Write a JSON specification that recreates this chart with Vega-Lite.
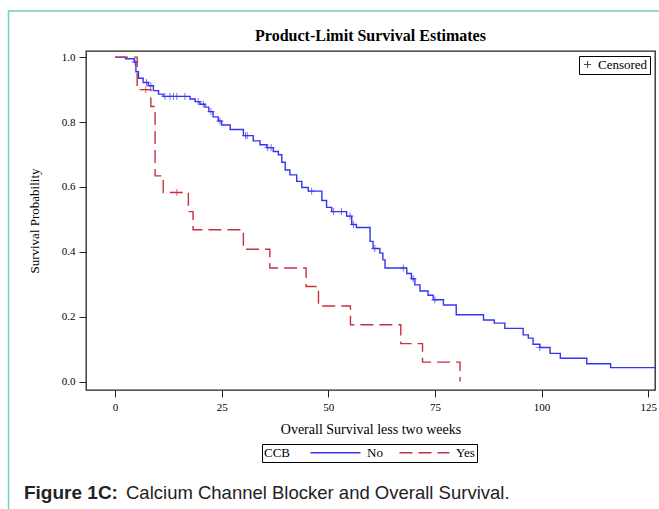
{
  "$schema": "https://vega.github.io/schema/vega-lite/v6.json",
  "width": 569,
  "height": 339,
  "autosize": {"type": "none"},
  "padding": {"left": 86, "top": 51, "right": 4, "bottom": 119},
  "background": "white",
  "title": {"text": "Product-Limit Survival Estimates", "frame": "group", "font": "Liberation Serif", "fontSize": 16, "fontWeight": "bold", "color": "black", "anchor": "middle", "baseline": "alphabetic", "offset": -46.75},
  "config": {
    "view": {"stroke": "#222", "strokeWidth": 1.3},
    "axis": {"labelFont": "Liberation Serif", "titleFont": "Liberation Serif", "labelFontSize": 11, "titleFontSize": 13, "labelColor": "black", "titleColor": "black", "titleFontWeight": "normal", "tickColor": "#222", "domain": false, "grid": false, "tickSize": 7},
    "legend": {"labelFont": "Liberation Serif", "titleFont": "Liberation Serif", "labelFontSize": 13, "titleFontSize": 13, "titleFontWeight": "normal", "labelColor": "black", "titleColor": "black"}
  },
  "datasets": {
    "curves": [
      {"CCB": "No", "time": 0, "surv": 1.0},
      {"CCB": "No", "time": 2.5, "surv": 0.995},
      {"CCB": "No", "time": 4.5, "surv": 0.985},
      {"CCB": "No", "time": 4.9, "surv": 0.955},
      {"CCB": "No", "time": 5.5, "surv": 0.935},
      {"CCB": "No", "time": 6.6, "surv": 0.922},
      {"CCB": "No", "time": 7.8, "surv": 0.912},
      {"CCB": "No", "time": 9.0, "surv": 0.897},
      {"CCB": "No", "time": 10.2, "surv": 0.886},
      {"CCB": "No", "time": 11.3, "surv": 0.879},
      {"CCB": "No", "time": 17.6, "surv": 0.871},
      {"CCB": "No", "time": 18.8, "surv": 0.863},
      {"CCB": "No", "time": 19.9, "surv": 0.855},
      {"CCB": "No", "time": 21.1, "surv": 0.846},
      {"CCB": "No", "time": 22.0, "surv": 0.832},
      {"CCB": "No", "time": 23.0, "surv": 0.816},
      {"CCB": "No", "time": 24.2, "surv": 0.803},
      {"CCB": "No", "time": 25.0, "surv": 0.791},
      {"CCB": "No", "time": 27.0, "surv": 0.777},
      {"CCB": "No", "time": 30.1, "surv": 0.758},
      {"CCB": "No", "time": 32.4, "surv": 0.742},
      {"CCB": "No", "time": 34.0, "surv": 0.730},
      {"CCB": "No", "time": 35.6, "surv": 0.721},
      {"CCB": "No", "time": 37.1, "surv": 0.709},
      {"CCB": "No", "time": 38.3, "surv": 0.699},
      {"CCB": "No", "time": 39.1, "surv": 0.676},
      {"CCB": "No", "time": 39.9, "surv": 0.652},
      {"CCB": "No", "time": 41.0, "surv": 0.637},
      {"CCB": "No", "time": 42.6, "surv": 0.617},
      {"CCB": "No", "time": 43.8, "surv": 0.598},
      {"CCB": "No", "time": 45.3, "surv": 0.587},
      {"CCB": "No", "time": 48.5, "surv": 0.558},
      {"CCB": "No", "time": 49.6, "surv": 0.537},
      {"CCB": "No", "time": 50.8, "surv": 0.524},
      {"CCB": "No", "time": 54.3, "surv": 0.510},
      {"CCB": "No", "time": 55.5, "surv": 0.484},
      {"CCB": "No", "time": 56.6, "surv": 0.475},
      {"CCB": "No", "time": 59.8, "surv": 0.432},
      {"CCB": "No", "time": 60.5, "surv": 0.410},
      {"CCB": "No", "time": 62.1, "surv": 0.396},
      {"CCB": "No", "time": 62.8, "surv": 0.375},
      {"CCB": "No", "time": 63.3, "surv": 0.350},
      {"CCB": "No", "time": 68.4, "surv": 0.333},
      {"CCB": "No", "time": 69.5, "surv": 0.317},
      {"CCB": "No", "time": 70.3, "surv": 0.298},
      {"CCB": "No", "time": 71.5, "surv": 0.279},
      {"CCB": "No", "time": 73.4, "surv": 0.266},
      {"CCB": "No", "time": 74.6, "surv": 0.252},
      {"CCB": "No", "time": 77.0, "surv": 0.236},
      {"CCB": "No", "time": 80.0, "surv": 0.206},
      {"CCB": "No", "time": 86.4, "surv": 0.190},
      {"CCB": "No", "time": 88.9, "surv": 0.180},
      {"CCB": "No", "time": 91.4, "surv": 0.164},
      {"CCB": "No", "time": 95.7, "surv": 0.144},
      {"CCB": "No", "time": 96.9, "surv": 0.134},
      {"CCB": "No", "time": 98.0, "surv": 0.115},
      {"CCB": "No", "time": 99.6, "surv": 0.105},
      {"CCB": "No", "time": 102.0, "surv": 0.087},
      {"CCB": "No", "time": 104.4, "surv": 0.072},
      {"CCB": "No", "time": 110.6, "surv": 0.055},
      {"CCB": "No", "time": 116.2, "surv": 0.043},
      {"CCB": "No", "time": 126.6, "surv": 0.043},
      {"CCB": "Yes", "time": 0, "surv": 1.0},
      {"CCB": "Yes", "time": 5.2, "surv": 0.900},
      {"CCB": "Yes", "time": 8.4, "surv": 0.848},
      {"CCB": "Yes", "time": 9.4, "surv": 0.634},
      {"CCB": "Yes", "time": 11.3, "surv": 0.583},
      {"CCB": "Yes", "time": 17.2, "surv": 0.524},
      {"CCB": "Yes", "time": 18.3, "surv": 0.468},
      {"CCB": "Yes", "time": 30.1, "surv": 0.408},
      {"CCB": "Yes", "time": 36.3, "surv": 0.350},
      {"CCB": "Yes", "time": 44.8, "surv": 0.293},
      {"CCB": "Yes", "time": 47.7, "surv": 0.233},
      {"CCB": "Yes", "time": 55.2, "surv": 0.175},
      {"CCB": "Yes", "time": 67.0, "surv": 0.117},
      {"CCB": "Yes", "time": 72.1, "surv": 0.060},
      {"CCB": "Yes", "time": 80.9, "surv": 0.0}
    ],
    "censored": [
      {"CCB": "No", "kind": "Censored", "time": 4.7, "surv": 0.985},
      {"CCB": "No", "kind": "Censored", "time": 7.4, "surv": 0.922},
      {"CCB": "No", "kind": "Censored", "time": 8.4, "surv": 0.912},
      {"CCB": "No", "kind": "Censored", "time": 11.7, "surv": 0.879},
      {"CCB": "No", "kind": "Censored", "time": 12.9, "surv": 0.879},
      {"CCB": "No", "kind": "Censored", "time": 13.7, "surv": 0.879},
      {"CCB": "No", "kind": "Censored", "time": 14.5, "surv": 0.879},
      {"CCB": "No", "kind": "Censored", "time": 16.4, "surv": 0.879},
      {"CCB": "No", "kind": "Censored", "time": 19.5, "surv": 0.863},
      {"CCB": "No", "kind": "Censored", "time": 20.7, "surv": 0.855},
      {"CCB": "No", "kind": "Censored", "time": 22.5, "surv": 0.832},
      {"CCB": "No", "kind": "Censored", "time": 24.6, "surv": 0.803},
      {"CCB": "No", "kind": "Censored", "time": 30.6, "surv": 0.758},
      {"CCB": "No", "kind": "Censored", "time": 31.0, "surv": 0.758},
      {"CCB": "No", "kind": "Censored", "time": 35.8, "surv": 0.721},
      {"CCB": "No", "kind": "Censored", "time": 36.6, "surv": 0.721},
      {"CCB": "No", "kind": "Censored", "time": 46.1, "surv": 0.587},
      {"CCB": "No", "kind": "Censored", "time": 51.2, "surv": 0.524},
      {"CCB": "No", "kind": "Censored", "time": 53.1, "surv": 0.524},
      {"CCB": "No", "kind": "Censored", "time": 55.1, "surv": 0.510},
      {"CCB": "No", "kind": "Censored", "time": 55.9, "surv": 0.484},
      {"CCB": "No", "kind": "Censored", "time": 60.9, "surv": 0.410},
      {"CCB": "No", "kind": "Censored", "time": 67.6, "surv": 0.350},
      {"CCB": "No", "kind": "Censored", "time": 69.9, "surv": 0.317},
      {"CCB": "No", "kind": "Censored", "time": 75.0, "surv": 0.252},
      {"CCB": "No", "kind": "Censored", "time": 99.6, "surv": 0.105},
      {"CCB": "Yes", "kind": "Censored", "time": 7.2, "surv": 0.900},
      {"CCB": "Yes", "kind": "Censored", "time": 14.5, "surv": 0.583}
    ]
  },
  "layer": [
    {
      "data": {"values": [{}]},
      "mark": {"type": "rect", "filled": false, "stroke": "#6dd0c5", "strokeWidth": 1.5},
      "encoding": {
        "x": {"datum": -24.97, "type": "quantitative", "scale": {"domain": [-6.8, 126.6], "nice": false, "zero": false}, "axis": {"values": [0, 25, 50, 75, 100, 125], "title": "Overall Survival less two weeks", "titleFontSize": 14, "labelPadding": 4, "titlePadding": 10}},
        "x2": {"datum": 400},
        "y": {"datum": 1.142, "type": "quantitative", "scale": {"domain": [-0.026, 1.019], "nice": false, "zero": false}, "axis": {"values": [0, 0.2, 0.4, 0.6, 0.8, 1.0], "format": ".1f", "title": "Survival Probability", "labelPadding": 4, "titlePadding": 20}},
        "y2": {"datum": -3}
      }
    },
    {
      "data": {"name": "curves"},
      "mark": {"type": "line", "interpolate": "step-after", "strokeWidth": 1.4, "clip": true},
      "encoding": {
        "x": {"field": "time", "type": "quantitative", "scale": {"domain": [-6.8, 126.6], "nice": false, "zero": false}, "axis": {"values": [0, 25, 50, 75, 100, 125], "title": "Overall Survival less two weeks", "titleFontSize": 14, "labelPadding": 4, "titlePadding": 10}},
        "y": {"field": "surv", "type": "quantitative", "scale": {"domain": [-0.026, 1.019], "nice": false, "zero": false}, "axis": {"values": [0, 0.2, 0.4, 0.6, 0.8, 1.0], "format": ".1f", "title": "Survival Probability", "labelPadding": 4, "titlePadding": 20}},
        "color": {"field": "CCB", "type": "nominal", "scale": {"domain": ["No", "Yes"], "range": ["#3535f0", "#c8303f"]}, "legend": {"orient": "none", "legendX": 176, "legendY": 393, "direction": "horizontal", "title": "CCB", "titleOrient": "left", "titlePadding": 18, "symbolType": "M-1,0L9,0", "symbolSize": 100, "symbolStrokeWidth": 1.4, "labelOffset": 45, "columnPadding": 13, "strokeColor": "black", "padding": 2}},
        "strokeDash": {"field": "CCB", "type": "nominal", "scale": {"domain": ["No", "Yes"], "range": [[1, 0], [13, 6]]}, "legend": {"orient": "none", "legendX": 176, "legendY": 393, "direction": "horizontal", "title": "CCB", "titleOrient": "left", "titlePadding": 18, "symbolType": "M-1,0L9,0", "symbolSize": 100, "symbolStrokeWidth": 1.4, "labelOffset": 45, "columnPadding": 13, "strokeColor": "black", "padding": 2}}
      }
    },
    {
      "data": {"name": "censored"},
      "mark": {"type": "point", "filled": false, "strokeWidth": 1},
      "encoding": {
        "x": {"field": "time", "type": "quantitative", "scale": {"domain": [-6.8, 126.6], "nice": false, "zero": false}, "axis": {"values": [0, 25, 50, 75, 100, 125], "title": "Overall Survival less two weeks", "titleFontSize": 14, "labelPadding": 4, "titlePadding": 10}},
        "y": {"field": "surv", "type": "quantitative", "scale": {"domain": [-0.026, 1.019], "nice": false, "zero": false}, "axis": {"values": [0, 0.2, 0.4, 0.6, 0.8, 1.0], "format": ".1f", "title": "Survival Probability", "labelPadding": 4, "titlePadding": 20}},
        "color": {"field": "CCB", "type": "nominal", "scale": {"domain": ["No", "Yes"], "range": ["#3535f0", "#c8303f"]}, "legend": null},
        "shape": {"field": "kind", "type": "nominal", "scale": {"domain": ["Censored"], "range": ["M-1,0L1,0M0,-1L0,1"]}, "legend": {"orient": "top-right", "title": null, "strokeColor": "black", "padding": 2, "offset": 5, "symbolStrokeColor": "black", "symbolSize": 49, "symbolStrokeWidth": 1, "labelFontSize": 13}},
        "size": {"value": 49}
      }
    },
    {
      "data": {"values": [{}]},
      "mark": {"type": "text", "text": "Figure 1C:", "font": "Liberation Sans", "fontSize": 19, "fontWeight": "bold", "align": "left", "baseline": "alphabetic", "color": "#222"},
      "encoding": {
        "x": {"datum": -21.34, "type": "quantitative", "scale": {"domain": [-6.8, 126.6], "nice": false, "zero": false}, "axis": {"values": [0, 25, 50, 75, 100, 125], "title": "Overall Survival less two weeks", "titleFontSize": 14, "labelPadding": 4, "titlePadding": 10}},
        "y": {"datum": -0.3616, "type": "quantitative", "scale": {"domain": [-0.026, 1.019], "nice": false, "zero": false}, "axis": {"values": [0, 0.2, 0.4, 0.6, 0.8, 1.0], "format": ".1f", "title": "Survival Probability", "labelPadding": 4, "titlePadding": 20}}
      }
    },
    {
      "data": {"values": [{}]},
      "mark": {"type": "text", "text": "Calcium Channel Blocker and Overall Survival.", "font": "Liberation Sans", "fontSize": 18.5, "fontWeight": "normal", "align": "left", "baseline": "alphabetic", "color": "#222"},
      "encoding": {
        "x": {"datum": 2.58, "type": "quantitative", "scale": {"domain": [-6.8, 126.6], "nice": false, "zero": false}, "axis": {"values": [0, 25, 50, 75, 100, 125], "title": "Overall Survival less two weeks", "titleFontSize": 14, "labelPadding": 4, "titlePadding": 10}},
        "y": {"datum": -0.3616, "type": "quantitative", "scale": {"domain": [-0.026, 1.019], "nice": false, "zero": false}, "axis": {"values": [0, 0.2, 0.4, 0.6, 0.8, 1.0], "format": ".1f", "title": "Survival Probability", "labelPadding": 4, "titlePadding": 20}}
      }
    }
  ]
}
